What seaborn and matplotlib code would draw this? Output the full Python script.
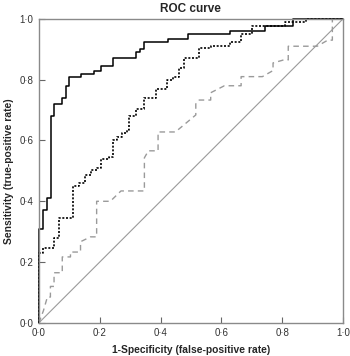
import seaborn as sns
from matplotlib import pyplot as plt
from matplotlib.ticker import FuncFormatter

# curve 1 (solid black), step corners
solid_fpr = [0, 0, 0.014, 0.027, 0.04, 0.051, 0.077, 0.09, 0.10, 0.14, 0.18, 0.205,
             0.245, 0.32, 0.334, 0.347, 0.423, 0.49, 0.63, 0.745, 0.835, 1.0]
solid_tpr = [0, 0.31, 0.37, 0.41, 0.68, 0.72, 0.74, 0.78, 0.81, 0.82, 0.83, 0.845,
             0.87, 0.89, 0.90, 0.925, 0.934, 0.95, 0.96, 0.975, 1.0, 1.0]

# curve 2 (black dotted)
dot_fpr = [0, 0, 0.015, 0.049, 0.065, 0.112, 0.133, 0.153, 0.17, 0.19, 0.205, 0.232,
           0.244, 0.258, 0.275, 0.29, 0.298, 0.32, 0.347, 0.386, 0.42, 0.44, 0.46,
           0.476, 0.525, 0.565, 0.63, 0.666, 0.70, 0.81, 0.877, 1.0]
dot_tpr = [0, 0.23, 0.245, 0.28, 0.345, 0.45, 0.46, 0.487, 0.503, 0.51, 0.54, 0.546,
           0.60, 0.61, 0.625, 0.635, 0.68, 0.705, 0.74, 0.77, 0.80, 0.81, 0.84,
           0.87, 0.905, 0.91, 0.925, 0.95, 0.975, 0.99, 1.0, 1.0]

# curve 3 (grey dashed), vertices
dash_fpr = [0, 0.015, 0.028, 0.038, 0.038, 0.05, 0.05, 0.077, 0.077, 0.104, 0.104,
            0.137, 0.137, 0.17, 0.19, 0.19, 0.235, 0.27, 0.347, 0.347, 0.36, 0.392,
            0.392, 0.449, 0.516, 0.516, 0.525, 0.565, 0.565, 0.61, 0.665, 0.665,
            0.735, 0.77, 0.77, 0.805, 0.82, 0.82, 0.915, 0.95, 0.965, 0.965, 1.0]
dash_tpr = [0, 0.04, 0.085, 0.085, 0.12, 0.12, 0.165, 0.165, 0.217, 0.217, 0.233,
            0.233, 0.267, 0.283, 0.283, 0.40, 0.40, 0.434, 0.434, 0.543, 0.566, 0.566,
            0.628, 0.628, 0.684, 0.72, 0.733, 0.733, 0.757, 0.78, 0.78, 0.81,
            0.81, 0.83, 0.855, 0.865, 0.865, 0.91, 0.91, 0.93, 0.93, 1.0, 1.0]

ticks = [0.0, 0.2, 0.4, 0.6, 0.8, 1.0]

sns.set_style("ticks")
plt.rcParams['font.family'] = ['Liberation Sans', 'DejaVu Sans']

fig = plt.figure(figsize=(3.5, 3.56), dpi=100)
ax = fig.add_axes([0.111, 0.093, 0.869, 0.854])

sns.lineplot(x=[0, 1], y=[0, 1], color="#9a9a9a", linewidth=0.8, ax=ax)
sns.lineplot(x=dash_fpr, y=dash_tpr, sort=False, estimator=None, color="#9a9a9a",
             linewidth=1.0, dashes=False, linestyle=(0, (4, 3)), ax=ax, clip_on=False)
sns.lineplot(x=dot_fpr, y=dot_tpr, sort=False, estimator=None, color="black",
             linewidth=1.2, linestyle=(0, (1.2, 1.0)), drawstyle="steps-post",
             ax=ax, clip_on=False)
sns.lineplot(x=solid_fpr, y=solid_tpr, sort=False, estimator=None, color="black",
             linewidth=1.1, drawstyle="steps-post", ax=ax, clip_on=False)

ax.set_xlim(0, 1)
ax.set_ylim(0, 1)
ax.set_xticks(ticks)
ax.set_yticks(ticks)
fmt = FuncFormatter(lambda v, p: f"{v:.1f}".replace(".", "\u00b7"))
ax.xaxis.set_major_formatter(fmt)
ax.yaxis.set_major_formatter(fmt)
ax.tick_params(axis="both", direction="in", length=4, width=0.8, color="#666666",
               labelsize=7, labelcolor="#333333", pad=4)
for s in ax.spines.values():
    s.set_color("#8a8a8a")
    s.set_linewidth(1.0)

ax.set_title("ROC curve", fontsize=8.5, fontweight="bold", pad=5)
ax.set_xlabel("1-Specificity (false-positive rate)", fontsize=7.4, fontweight="bold", labelpad=5)
ax.set_ylabel("Sensitivity (true-positive rate)", fontsize=7.4, fontweight="bold", labelpad=4)

plt.savefig("out.png", dpi=100)
